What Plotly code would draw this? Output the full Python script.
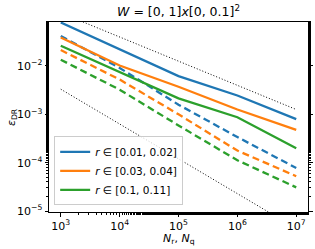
import plotly.graph_objects as go

N = [1e3, 1e4, 1e5, 1e6, 1e7]
labels = ["<i>r</i> ∈ [0.01, 0.02]", "<i>r</i> ∈ [0.03, 0.04]", "<i>r</i> ∈ [0.1, 0.11]"]
colors = ["#1f77b4", "#ff7f0e", "#2ca02c"]
# log10 of error values
solid_log = [
    [-1.10, -1.65, -2.21, -2.61, -3.10],
    [-1.41, -1.99, -2.43, -2.90, -3.32],
    [-1.58, -2.13, -2.67, -3.06, -3.70],
]
dashed_log = [
    [-1.38, -2.04, -2.80, -3.47, -4.11],
    [-1.67, -2.28, -3.00, -3.75, -4.28],
    [-1.87, -2.49, -3.23, -3.95, -4.51],
]
ref_N = [1e3, 1e7]
ref_upper_log = [-0.90, -2.90]
ref_lower_log = [-2.48, -5.36]

fig = go.Figure()
for lab, c, s, d in zip(labels, colors, solid_log, dashed_log):
    fig.add_trace(go.Scatter(x=N, y=[10 ** v for v in s], mode="lines", name=lab,
                             line=dict(color=c, width=2.3)))
    fig.add_trace(go.Scatter(x=N, y=[10 ** v for v in d], mode="lines", showlegend=False,
                             line=dict(color=c, width=2.3, dash="7px,4px")))
for rl in (ref_upper_log, ref_lower_log):
    fig.add_trace(go.Scatter(x=ref_N, y=[10 ** v for v in rl], mode="lines", showlegend=False,
                             line=dict(color="black", width=1, dash="1px,2px")))

W, H = 315, 249
L, R, T, B = 49, 7, 22, 37
font = dict(family="DejaVu Sans", size=11, color="black")
fig.update_layout(
    width=W, height=H,
    margin=dict(l=L, r=R, t=T, b=B, autoexpand=False),
    paper_bgcolor="white", plot_bgcolor="white",
    font=font,
    hovermode=False,
    title=dict(text="<i>W</i> = [0, 1]<i>x</i>[0, 0.1]<sup>2</sup>", x=(L + W - R) / 2 / W,
               xanchor="center", y=1 - 12 / H, yanchor="middle", font=dict(family="DejaVu Sans", size=12.5)),
    legend=dict(x=0.02, y=0.035, xanchor="left", yanchor="bottom",
                bgcolor="rgba(255,255,255,0.8)", bordercolor="#cccccc", borderwidth=1,
                font=dict(family="DejaVu Sans", size=10.5), tracegroupgap=0, itemwidth=30),
    annotations=[
        dict(text="<i>N</i><sub>r</sub>, <i>N</i><sub>q</sub>", xref="paper", yref="paper",
             x=0.5, y=-(239 - (H - B)) / (H - T - B), xanchor="center", yanchor="middle",
             showarrow=False, font=dict(family="DejaVu Sans", size=11)),
        dict(text="<i>ε</i><sub>DR</sub>", xref="paper", yref="paper",
             x=-(L - 12) / (W - L - R), y=0.5, xanchor="center", yanchor="middle", textangle=-90,
             showarrow=False, font=dict(family="DejaVu Sans", size=11)),
    ],
)
fig.update_xaxes(
    type="log", range=[2.8, 7.2], automargin=False,
    tickvals=[1e3, 1e4, 1e5, 1e6, 1e7],
    ticktext=["10<sup>3</sup>", "10<sup>4</sup>", "10<sup>5</sup>", "10<sup>6</sup>", "10<sup>7</sup>"],
    ticks="outside", ticklen=3.5, tickwidth=1, tickcolor="black",
    showline=True, linecolor="black", linewidth=1, mirror=True,
    showgrid=False, zeroline=False,
    minor=dict(ticks="outside", ticklen=2, tickcolor="black", showgrid=False),
)
fig.update_yaxes(
    type="log", range=[-5.02, -1.09], automargin=False,
    tickvals=[1e-5, 1e-4, 1e-3, 1e-2],
    ticktext=["10<sup>−5</sup>", "10<sup>−4</sup>", "10<sup>−3</sup>", "10<sup>−2</sup>"],
    ticks="outside", ticklen=3.5, tickwidth=1, tickcolor="black",
    showline=True, linecolor="black", linewidth=1, mirror="ticks",
    showgrid=False, zeroline=False,
    minor=dict(ticks="outside", ticklen=2, tickcolor="black", showgrid=False),
)
fig.write_html("out.html", config={"displayModeBar": False, "staticPlot": True},
               post_script="document.body.style.margin='0';")
